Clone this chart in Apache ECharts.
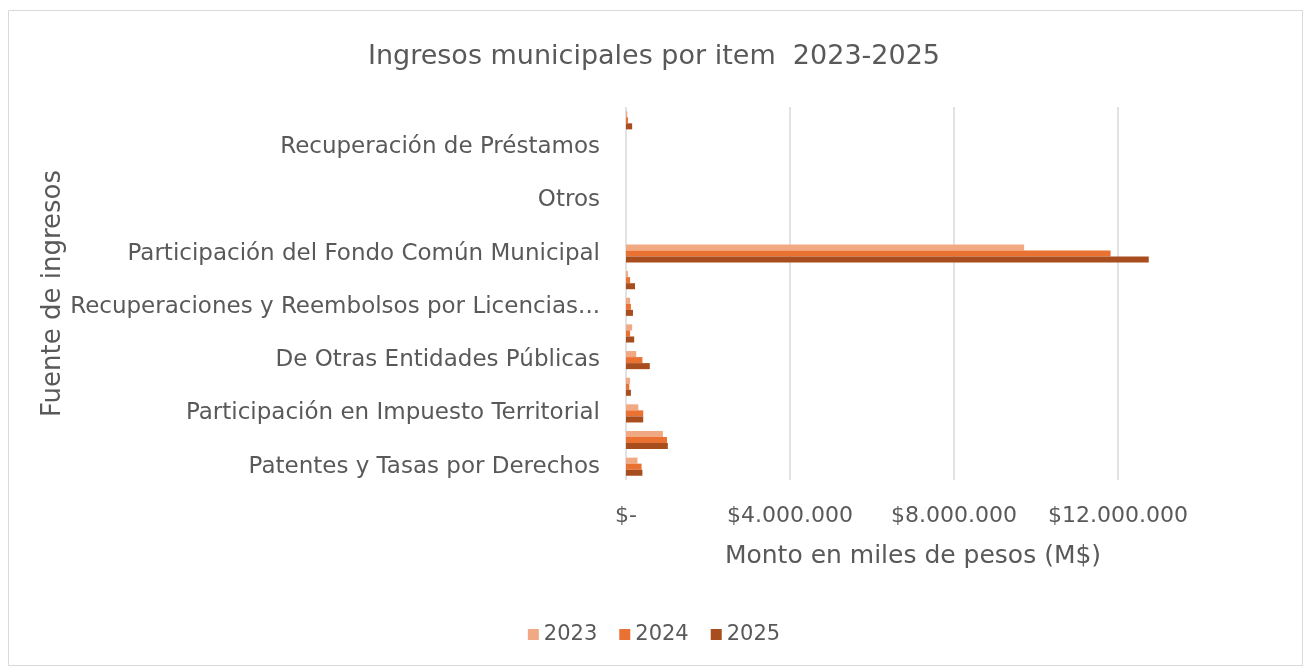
<!DOCTYPE html>
<html>
<head>
<meta charset="utf-8">
<script src="https://cdn.jsdelivr.net/npm/echarts@6/dist/echarts.min.js"></script>
<style>
html,body{margin:0;padding:0;background:#fff;}
#c{width:1308px;height:670px;}
</style>
</head>
<body>
<div id="c"></div>
<script>
// Categories (bottom to top, as in the reference)
const categories = [
  "Patentes y Tasas por Derechos",
  "Permisos y Licencias",
  "Participación en Impuesto Territorial",
  "Del Sector Privado",
  "De Otras Entidades Públicas",
  "Rentas de la Propiedad",
  "Recuperaciones y Reembolsos por Licencias Médicas",
  "Multas y Sanciones Pecuniarias",
  "Participación del Fondo Común Municipal",
  "Fondos de Terceros",
  "Otros",
  "Venta de Activos No Financieros",
  "Recuperación de Préstamos",
  "Transferencias para Gastos de Capital"
];
const seriesNames = ["2023", "2024", "2025"];
const values2023 = [280000, 900000, 300000, 100000, 250000, 150000, 100000, 50000, 9710000, 0, 0, 0, 0, 30000];
const values2024 = [380000, 1000000, 420000, 80000, 400000, 100000, 120000, 100000, 11820000, 0, 0, 0, 0, 50000];
const values2025 = [400000, 1020000, 420000, 120000, 580000, 200000, 170000, 220000, 12750000, 0, 0, 0, 0, 150000];
const xTicks = [0, 4000000, 8000000, 12000000];

const colors = ["#F1A983", "#E97132", "#A84D1E"];
const txt = "#595959";
const ff = "'DejaVu Sans', sans-serif";
const maxLabelChars = 41;

function fmt(v) {
  if (v === 0) return "$-";
  return "$" + String(Math.round(v)).replace(/\B(?=(\d{3})+(?!\d))/g, ".");
}

const chart = echarts.init(document.getElementById("c"), null, {renderer: "canvas"});
chart.setOption({
  animation: false,
  backgroundColor: "#fff",
  graphic: [{
    type: "rect", left: 6, top: 8, silent: true,
    shape: {width: 1294, height: 655},
    style: {fill: "none", stroke: "#d9d9d9", lineWidth: 1}
  }],
  title: {
    text: "Ingresos municipales por item  2023-2025",
    left: "center", top: 38,
    textStyle: {color: txt, fontFamily: ff, fontWeight: "normal", fontSize: 27}
  },
  legend: {
    data: seriesNames,
    bottom: 20, left: "center",
    icon: "rect", itemWidth: 11, itemHeight: 11, itemGap: 22,
    textStyle: {color: txt, fontFamily: ff, fontSize: 21}
  },
  grid: {left: 626, right: 108, top: 107, bottom: 190, containLabel: false},
  xAxis: {
    type: "value", min: 0, max: 14000000, interval: 4000000,
    name: "Monto en miles de pesos (M$)",
    nameLocation: "middle", nameGap: 64,
    nameTextStyle: {color: txt, fontFamily: ff, fontSize: 25},
    axisLine: {show: false}, axisTick: {show: false},
    axisLabel: {
      color: txt, fontFamily: ff, fontSize: 22, margin: 25,
      showMaxLabel: false,
      formatter: function (v) { return xTicks.indexOf(v) >= 0 ? fmt(v) : ""; }
    },
    splitLine: {show: true, lineStyle: {color: ["#d9d9d9", "#d9d9d9", "#d9d9d9", "#d9d9d9", "rgba(0,0,0,0)"], width: 1.5}}
  },
  yAxis: {
    type: "category", data: categories,
    name: "Fuente de ingresos",
    nameLocation: "middle", nameRotate: 90, nameGap: 541,
    nameTextStyle: {color: txt, fontFamily: ff, fontSize: 26},
    axisLine: {show: false}, axisTick: {show: false},
    axisLabel: {
      interval: 1, color: txt, fontFamily: ff, fontSize: 23, margin: 26,
      formatter: function (s) {
        return s.length > maxLabelChars ? s.slice(0, maxLabelChars).trim() + "..." : s;
      }
    }
  },
  series: [
    {name: seriesNames[0], type: "bar", data: values2023, itemStyle: {color: colors[0]}, barGap: "0%", barCategoryGap: "32%"},
    {name: seriesNames[1], type: "bar", data: values2024, itemStyle: {color: colors[1]}, barGap: "0%", barCategoryGap: "32%"},
    {name: seriesNames[2], type: "bar", data: values2025, itemStyle: {color: colors[2]}, barGap: "0%", barCategoryGap: "32%"}
  ]
});
</script>
</body>
</html>
